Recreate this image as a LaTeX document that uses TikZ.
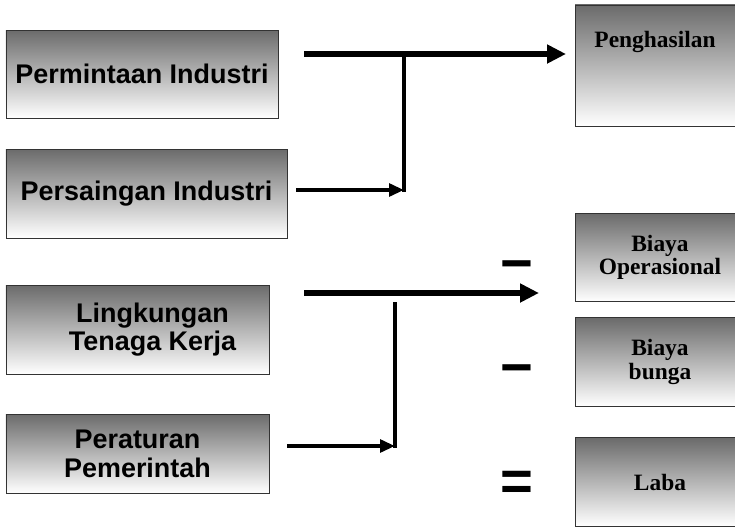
\documentclass[tikz,border=0pt]{standalone}
\usepackage{fontspec}
\newfontfamily\arialf{Liberation Sans}
\newfontfamily\timesf{Liberation Serif}
\usetikzlibrary{arrows.meta}

\begin{document}
\begin{tikzpicture}[x=0.03cm,y=-0.03cm,
box/.style={draw=black!80,line width=0.6pt,top color=black!58,bottom color=white,inner sep=0pt,outer sep=0pt},
lbox/.style={box,font=\arialf\bfseries\fontsize{23}{24.5}\selectfont,align=center},
rbox/.style={box,font=\timesf\bfseries\fontsize{20}{20}\selectfont,align=center,minimum width=5.1cm,minimum height=2.65cm},
bigarr/.style={line width=5.2pt,-{Triangle[length=0.57cm,width=0.54cm]}},
smallarr/.style={line width=3.4pt,-{Triangle[length=0.45cm,width=0.38cm]}},
sign/.style={font=\arialf\bfseries\fontsize{48}{48}\selectfont,inner sep=0pt}]
\useasboundingbox (0,0) rectangle (735,527);
% left boxes
\node[lbox,minimum width=8.16cm,minimum height=2.64cm] (PI) at (142,74) {Permintaan Industri};
\node[lbox,minimum width=8.43cm,minimum height=2.67cm] (PS) at (146.5,193.5) {Persaingan Industri};
\node[lbox,minimum width=7.89cm,minimum height=2.67cm] (LK) at (137.5,329.5) {\hspace*{0.9cm}Lingkungan\\\hspace*{0.9cm}Tenaga Kerja};
\node[lbox,minimum width=7.89cm,minimum height=2.37cm] (PP) at (137.5,453.5) {Peraturan\\Pemerintah};
% right boxes
\node[rbox,minimum height=3.63cm] (PH) at (660,65.5) {};
\node[font=\timesf\bfseries\fontsize{20}{20}\selectfont,anchor=base] (PHt) at (655,47) {Penghasilan};
\node[rbox] (BO) at (660,257.5) {Biaya\\Operasional};
\node[rbox] (BB) at (660,362) {Biaya\\bunga};
\node[rbox] (LB) at (660,482) {Laba};
\node[sign] (m1) at (517,272) {−};
\node[sign] (m2) at (517,376) {−};
\node[sign] (eq) at (517,486) {=};
% connectors
\coordinate (A1) at (304,54);
\coordinate (J1) at (404,54);
\coordinate (K1) at (404,190);
\draw[bigarr,shorten >=0.27cm] (A1) -- (A1 -| PH.west);
\draw[line width=3.4pt,line cap=rect] (J1) -- (K1);
\draw[smallarr,shorten <=0.27cm] (PS.east |- K1) -- (K1);
\coordinate (A2) at (304,293);
\coordinate (B2) at (539,293);
\coordinate (J2) at (395,304);
\coordinate (K2) at (395,446);
\draw[bigarr] (A2) -- (B2);
\draw[line width=3.4pt,line cap=rect] (J2) -- (K2);
\draw[smallarr,shorten <=0.54cm] (PP.east |- K2) -- (K2);
\end{tikzpicture}
\end{document}
